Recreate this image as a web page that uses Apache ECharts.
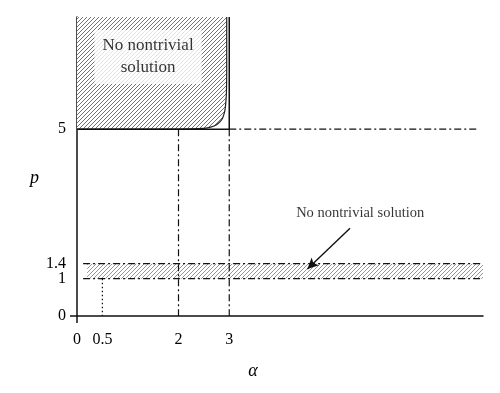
<!DOCTYPE html>
<html><head><meta charset="utf-8">
<script src="https://cdn.jsdelivr.net/npm/echarts@6/dist/echarts.min.js"></script>
<style>html,body{margin:0;padding:0;background:#fff}#c{width:500px;height:393px}</style>
</head><body><div id="c"></div>
<script>
// ---- data ----
var curveAlpha = [0, 2.0, 2.5, 2.65, 2.75, 2.82, 2.87, 2.9, 2.92, 2.935, 2.945, 2.95, 2.95];
var curveP     = [5, 5.0, 5.02, 5.06, 5.12, 5.2, 5.3, 5.42, 5.55, 5.75, 6.0, 6.5, 8];
var boxAlpha = [0, 3, 3];
var boxP     = [5, 5, 8];
var xTickLabels = [0, 0.5, 2, 3];
var yTickLabels = [0, 1, 1.4, 5];
var bandLow = 1, bandHigh = 1.4;
var bandStart = 0.2, bandEnd = 8, bandLineStart = 0.12;
var p5LineEnd = 7.9;
var dottedAlpha = 0.5;
var arrowFrom = [5.38, 2.35], arrowTo = [4.54, 1.26];
var topLabelPos = [1.4, 6.93], bandLabelPos = [5.58, 2.75];
var topLabel = 'No nontrivial\nsolution', bandLabel = 'No nontrivial solution';

function hatch(color) {
  var s = 4, c = document.createElement('canvas');
  c.width = s; c.height = s;
  var g = c.getContext('2d');
  g.fillStyle = '#fff'; g.fillRect(0, 0, s, s);
  g.strokeStyle = color; g.lineWidth = 0.9;
  g.beginPath();
  g.moveTo(-1, s + 1); g.lineTo(s + 1, -1);
  g.moveTo(-1, 1); g.lineTo(1, -1);
  g.moveTo(s - 1, s + 1); g.lineTo(s + 1, s - 1);
  g.stroke();
  return { image: c, repeat: 'repeat' };
}
function zip(a, b) { return a.map(function (v, i) { return [v, b[i]]; }); }

var font = '"Liberation Serif", "DejaVu Serif", serif';
var dashDot = [7, 3, 2, 3];
function seg(data, type, w) {
  return { type: 'line', data: data, symbol: 'none', silent: true, z: 3,
    lineStyle: { color: '#111', width: w || 1.2, type: type || dashDot } };
}

var chart = echarts.init(document.getElementById('c'), null, { renderer: 'canvas' });
chart.setOption({
  animation: false,
  backgroundColor: '#fff',
  grid: { left: 77, right: 17, top: 17, bottom: 77, outerBoundsMode: 'none' },
  xAxis: {
    type: 'value', min: 0, max: 8,
    name: 'α', nameLocation: 'middle', nameGap: 46,
    nameTextStyle: { fontFamily: font, fontStyle: 'italic', fontSize: 18, color: '#000', padding: [0, 54, 0, 0] },
    axisLine: { onZero: false, lineStyle: { color: '#111', width: 1.5 } },
    axisTick: { show: true, customValues: [0], length: 7, lineStyle: { color: '#111', width: 1.5 } },
    axisLabel: { customValues: xTickLabels, margin: 16, fontFamily: font, fontSize: 16, color: '#000',
      formatter: function (v) { return String(v); } },
    splitLine: { show: false }
  },
  yAxis: {
    type: 'value', min: 0, max: 8,
    name: '\np', nameLocation: 'middle', nameGap: 38, nameRotate: 0,
    nameTextStyle: { fontFamily: font, fontStyle: 'italic', fontSize: 18, lineHeight: 24, color: '#000' },
    axisLine: { onZero: false, lineStyle: { color: '#111', width: 1.5 } },
    axisTick: { show: true, customValues: [0], length: 7, lineStyle: { color: '#111', width: 1.5 } },
    axisLabel: { customValues: yTickLabels, margin: 11, fontFamily: font, fontSize: 16, color: '#000',
      formatter: function (v) { return String(v); } },
    splitLine: { show: false }
  },
  series: [
    { type: 'line', data: zip(curveAlpha, curveP), symbol: 'none', smooth: 0.2, z: 2, silent: true,
      lineStyle: { color: '#222', width: 1.2 },
      areaStyle: { origin: 'end', color: hatch('#64645c'), opacity: 1 } },
    seg(zip(boxAlpha, boxP), 'solid', 1.5),
    seg([[3, 5], [p5LineEnd, 5]]),
    seg([[2, 5], [2, 0]]),
    seg([[3, 5], [3, 0]]),
    seg([[bandLineStart, bandHigh], [bandEnd, bandHigh]]),
    seg([[bandLineStart, bandLow], [bandEnd, bandLow]]),
    seg([[dottedAlpha, bandLow], [dottedAlpha, 0]], [1.5, 2.5], 1.2),
    { type: 'line', data: [], silent: true, z: 1,
      markArea: { silent: true, itemStyle: { color: hatch('#8a8a85') },
        data: [[{ coord: [bandStart, bandLow] }, { coord: [bandEnd, bandHigh] }]] },
      markLine: { silent: true, symbol: ['none', 'arrow'], symbolSize: [8, 11],
        lineStyle: { color: '#111', width: 1.4, type: 'solid' }, itemStyle: { color: '#111' }, label: { show: false },
        data: [[{ coord: arrowFrom }, { coord: arrowTo }]] } },
    { type: 'scatter', data: [topLabelPos], symbolSize: 0, silent: true, z: 5,
      label: { show: true, position: 'inside', formatter: topLabel, fontFamily: font, fontSize: 17,
        lineHeight: 22, color: '#000', backgroundColor: '#fff', padding: [5, 8], align: 'center' } },
    { type: 'scatter', data: [bandLabelPos], symbolSize: 0, silent: true, z: 5,
      label: { show: true, position: 'inside', formatter: bandLabel, fontFamily: font, fontSize: 14.5,
        color: '#000' } }
  ]
});
</script></body></html>
